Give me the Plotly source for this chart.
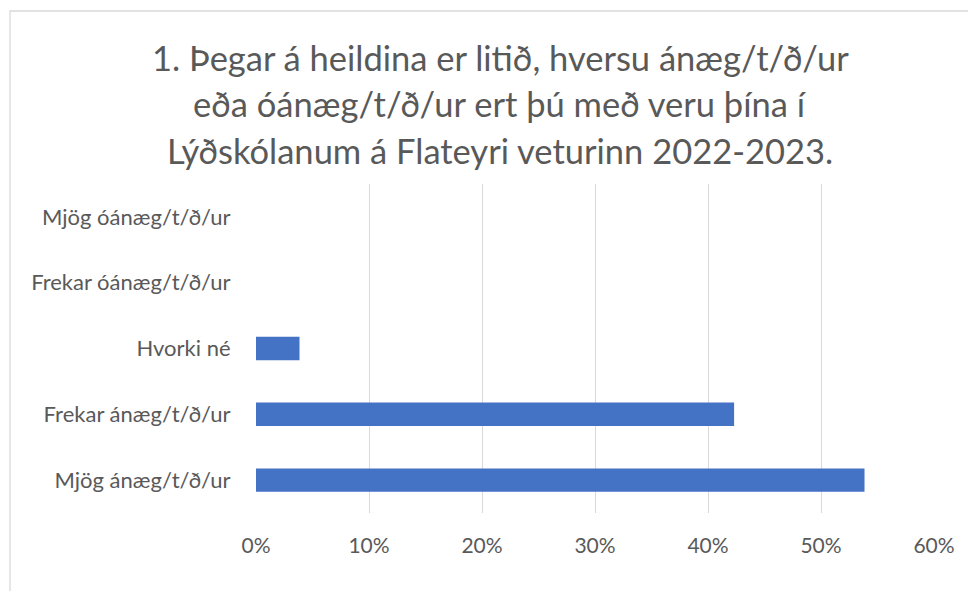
import plotly.graph_objects as go

categories = ["Mjög óánæg/t/ð/ur", "Frekar óánæg/t/ð/ur", "Hvorki né",
              "Frekar ánæg/t/ð/ur", "Mjög ánæg/t/ð/ur"]
shares = [0.0, 0.0, 0.0385, 0.4231, 0.5385]
x_ticks = [0, 0.1, 0.2, 0.3, 0.4, 0.5, 0.6]
title_lines = ["1. Þegar á heildina er litið, hversu ánæg/t/ð/ur",
               "eða óánæg/t/ð/ur ert þú með veru þína í",
               "Lýðskólanum á Flateyri veturinn 2022-2023."]

W, H = 976, 591
OFF = 8  # page body margin
ML, MT = 256 - OFF, 184 - OFF
MR = W - (934 - OFF)
MB = H - (513 - OFF)
PW, PH = W - ML - MR, H - MT - MB
FONT = "Lato, 'Open Sans', sans-serif"
GREY = "#595959"

fig = go.Figure(go.Bar(
    x=shares, y=categories, orientation="h",
    marker=dict(color="#4472C4", line=dict(width=0)),
))

fig.update_layout(
    width=W, height=H,
    margin=dict(l=ML, r=MR, t=MT, b=MB, pad=0),
    paper_bgcolor="white", plot_bgcolor="white",
    bargap=0.644, showlegend=False,
    font=dict(family=FONT, color=GREY, size=22),
)
fig.update_xaxes(
    range=[0, 0.6], tickvals=x_ticks, tickformat=".0%",
    showgrid=True, gridcolor="#D9D9D9", gridwidth=1.3,
    zeroline=False, showline=False, ticks="outside", ticklen=0,
    ticklabelstandoff=14, tickfont=dict(size=21, color=GREY),
)
fig.update_yaxes(
    autorange="reversed", showgrid=False, zeroline=False, showline=False,
    ticks="outside", ticklen=0, ticklabelstandoff=20,
    tickfont=dict(size=22, color=GREY),
)

for i, line in enumerate(title_lines):
    fig.add_annotation(
        text=line, xref="paper", yref="paper",
        x=(500 - OFF - ML) / PW, y=(H - MB - (57 - OFF + i * 46.5)) / PH,
        xanchor="center", yanchor="middle", showarrow=False,
        font=dict(size=34.5, color=GREY, family=FONT),
    )

# outer chart frame (partially cropped in the reference)
fig.add_shape(
    type="rect", xref="paper", yref="paper",
    x0=(10 - OFF - ML) / PW, x1=(W + 20 - ML) / PW,
    y0=(H - MB - (H + 20)) / PH, y1=(H - MB - (11 - OFF)) / PH,
    line=dict(color="#D9D9D9", width=1.3), fillcolor="rgba(0,0,0,0)",
    layer="below",
)

fig.write_html("out.html")
